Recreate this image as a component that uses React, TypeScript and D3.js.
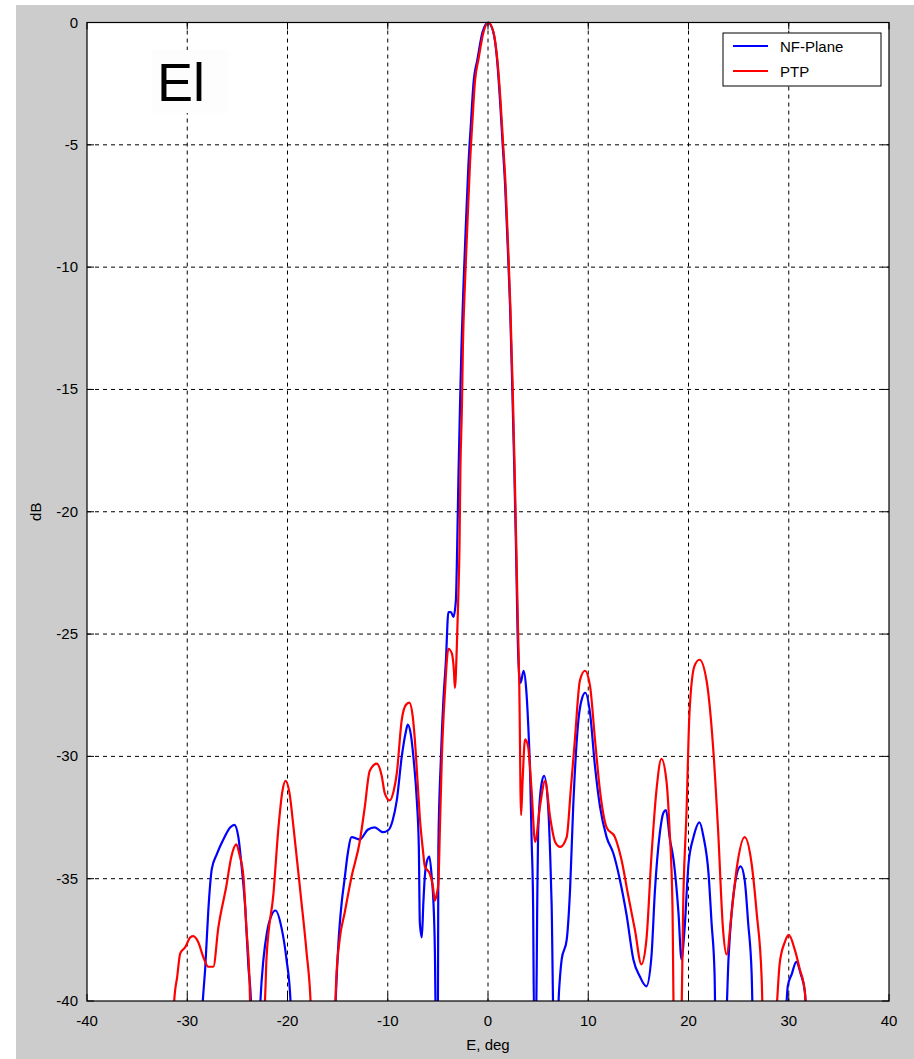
import React from "react";
import * as d3 from "d3";

const xTicks = [-40, -30, -20, -10, 0, 10, 20, 30, 40];
const yTicks = [0, -5, -10, -15, -20, -25, -30, -35, -40];
const seriesNames = ["NF-Plane", "PTP"];
const seriesColors = ["#0000ff", "#ff0000"];

const nfPlane: [number, number][] = [
  [-28.6, -41], [-28.45, -40], [-28.2, -38.6], [-27.9, -36.3], [-27.55, -34.6], [-27.05, -34.0], [-26.4, -33.4], [-25.7, -32.9], [-25.3, -32.8], [-24.9, -33.3], [-24.6, -34.4], [-24.2, -36.3], [-23.9, -38.6], [-23.65, -40], [-23.6, -41],
  [-22.8, -41], [-22.7, -40], [-22.4, -38.3], [-22.05, -37.2], [-21.6, -36.5], [-21.2, -36.3], [-20.6, -37.0], [-20.1, -38.3], [-19.7, -40], [-19.65, -41],
  [-15.3, -41], [-15.2, -40], [-14.9, -37.5], [-14.6, -36.0], [-14.3, -35.0], [-14.0, -34.0], [-13.6, -33.3], [-12.8, -33.4], [-12.0, -33.0], [-11.3, -32.9], [-10.5, -33.1], [-9.9, -33.0], [-9.5, -32.6], [-9.1, -31.8], [-8.6, -30.0], [-8.2, -29.0], [-8.0, -28.7], [-7.7, -29.1], [-7.4, -30.2], [-7.1, -31.8], [-6.9, -33.7], [-6.8, -36.8], [-6.6, -37.4], [-6.45, -36.0], [-6.3, -34.9], [-6.1, -34.3], [-5.85, -34.1], [-5.6, -35.0], [-5.45, -35.9], [-5.3, -37.9], [-5.2, -41], [-5.0, -41], [-4.95, -33.7], [-4.7, -30.1], [-4.45, -27.7], [-4.2, -26.1], [-3.95, -24.1], [-3.7, -24.1], [-3.45, -24.3], [-3.2, -23.6],
  [-3.1, -22.0], [-2.95, -18.6], [-2.8, -15.8], [-2.65, -13.3], [-2.45, -10.8], [-2.2, -8.2], [-1.95, -5.8], [-1.7, -4.1], [-1.45, -2.5], [-1.05, -1.5], [-0.55, -0.4], [0, 0], [0.5, -0.35], [0.9, -1.5], [1.2, -3.2], [1.45, -4.9], [1.7, -6.6], [1.95, -9.0], [2.2, -11.6], [2.42, -14.9], [2.62, -18.2], [2.8, -21.6], [2.95, -24.9], [3.1, -26.6], [3.25, -27.0], [3.55, -26.5], [3.8, -27.2], [4.0, -28.6], [4.2, -30.7], [4.35, -33.4], [4.5, -36.1], [4.6, -41], [4.8, -41], [4.9, -36.5], [5.0, -33.1], [5.35, -31.1], [5.6, -30.8], [6.0, -32.05], [6.2, -34.0], [6.35, -36.1], [6.55, -41],
  [6.9, -41], [7.1, -39.5], [7.35, -38.3], [7.85, -37.5], [8.18, -35.5], [8.5, -32.05], [9.0, -28.6], [9.4, -27.6], [9.7, -27.4], [10.17, -28.2], [10.67, -30.4], [11.17, -32.05], [11.83, -33.3], [12.5, -33.96], [13.16, -35.05], [13.83, -36.5], [14.5, -38.3], [15.15, -39.0], [15.8, -39.4], [16.3, -38.2], [16.65, -35.5], [17.15, -33.1], [17.5, -32.3], [17.75, -32.2], [18.15, -33.4], [18.5, -34.2], [19.0, -36.4], [19.3, -38.3], [19.6, -37.1], [20.0, -34.4], [20.5, -33.3], [21.1, -32.7], [21.5, -33.3], [22.0, -34.8], [22.3, -36.8], [22.6, -38.9], [22.7, -41],
  [23.7, -41], [24.0, -38.2], [24.3, -36.4], [24.6, -35.3], [25.2, -34.5], [25.6, -35.05], [25.95, -36.8], [26.3, -38.9], [26.45, -41],
  [29.6, -41], [29.9, -39.4], [30.3, -38.9], [30.75, -38.4], [31.2, -38.9], [31.6, -39.6], [31.8, -41],
];

const ptp: [number, number][] = [
  [-31.4, -41], [-31.3, -40], [-31.0, -39.0], [-30.7, -38.05], [-30.2, -37.8], [-29.7, -37.4], [-29.4, -37.35], [-28.9, -37.6], [-28.4, -38.2], [-27.9, -38.6], [-27.4, -38.6], [-26.9, -37.0], [-26.1, -35.3], [-25.6, -34.1], [-25.1, -33.6], [-24.8, -34.0], [-24.4, -34.9], [-24.1, -37.0], [-23.8, -39.0], [-23.65, -41],
  [-22.4, -41], [-22.2, -39.5], [-22.1, -38.3], [-21.4, -35.6], [-20.9, -32.9], [-20.5, -31.4], [-20.2, -31.0], [-19.8, -31.5], [-19.4, -32.9], [-18.7, -35.6], [-18.1, -38.0], [-17.7, -40], [-17.6, -41],
  [-15.3, -41], [-15.15, -39.2], [-14.8, -37.5], [-14.3, -36.4], [-13.6, -34.9], [-12.8, -33.5], [-12.3, -32.1], [-11.8, -30.6], [-11.1, -30.3], [-10.6, -30.8], [-10.3, -31.5], [-9.8, -31.8], [-9.4, -31.4], [-9.1, -30.7], [-8.6, -28.5], [-8.2, -27.9], [-7.85, -27.8], [-7.5, -28.4], [-7.3, -29.3], [-7.0, -31.2], [-6.8, -32.5], [-6.5, -33.8], [-6.3, -34.5], [-5.8, -34.8], [-5.5, -35.3], [-5.3, -35.9], [-5.1, -35.6], [-4.95, -35.2], [-4.8, -33.0], [-4.6, -30.0], [-4.3, -27.4], [-3.95, -25.6], [-3.6, -25.8], [-3.4, -26.5], [-3.3, -27.2], [-3.1, -25.4],
  [-2.95, -23.3], [-2.85, -21.6], [-2.75, -18.2], [-2.6, -15.7], [-2.5, -13.2], [-2.3, -10.7], [-2.05, -8.2], [-1.8, -5.8], [-1.55, -4.0], [-1.3, -2.4], [-0.95, -1.5], [-0.45, -0.4], [0.05, 0], [0.55, -0.4], [0.95, -1.6], [1.25, -3.2], [1.5, -4.9], [1.75, -6.6], [2.0, -9.1], [2.23, -11.6], [2.46, -14.9], [2.66, -18.3], [2.83, -21.6], [3.0, -24.9], [3.12, -27.1], [3.3, -32.4], [3.45, -31.0], [3.7, -29.3], [4.0, -29.6], [4.35, -31.4], [4.7, -33.5], [5.2, -32.0], [5.7, -31.0], [6.2, -32.5], [6.7, -33.5], [7.2, -33.7], [7.85, -33.3], [8.25, -31.4], [8.67, -29.3], [9.17, -26.9], [9.67, -26.5], [10.17, -27.1], [10.67, -29.3], [11.17, -31.4], [11.83, -32.9], [12.66, -33.3], [13.3, -34.2], [13.99, -35.7], [14.66, -37.1], [15.3, -38.5], [15.8, -37.5], [16.3, -34.1], [16.8, -31.4], [17.3, -30.1], [17.8, -31.0], [18.1, -32.9], [18.4, -36.1], [18.55, -41],
  [19.25, -41], [19.5, -35.5], [19.8, -32.3], [20.1, -28.2], [20.6, -26.3], [21.1, -26.05], [21.8, -26.9], [22.45, -29.6], [22.95, -33.0], [23.45, -37.1], [23.8, -38.1], [24.3, -36.4], [24.8, -34.6], [25.6, -33.3], [26.3, -34.4], [26.8, -36.4], [27.3, -39.1], [27.45, -41],
  [28.6, -41], [29.1, -38.45], [29.6, -37.6], [30.0, -37.3], [30.6, -37.9], [31.1, -38.7], [31.6, -39.6], [31.8, -41],
];

const seriesData = [nfPlane, ptp];

export default function App() {
  const W = 914, H = 1059;
  const left = 87, right = 889, top = 22.5, bottom = 1001;
  const x = d3.scaleLinear().domain([-40, 40]).range([left, right]);
  const y = d3.scaleLinear().domain([-40, 0]).range([bottom, top]);
  const line = d3.line<[number, number]>().x(d => x(d[0])).y(d => y(d[1])).curve(d3.curveMonotoneX);
  const font = "'Liberation Sans', Arial, Helvetica, sans-serif";
  const tickLen = 7;

  return (
    <svg width={W} height={H} style={{ position: "absolute", left: 0, top: 0 }} fontFamily={font}>
      <rect x={0} y={0} width={W} height={H} fill="#ffffff" />
      <rect x={16} y={5} width={W - 16} height={H - 5} fill="#cccccc" />
      <rect x={left} y={top} width={right - left} height={bottom - top} fill="#ffffff" />
      <defs>
        <clipPath id="plotclip">
          <rect x={left} y={top - 2} width={right - left} height={bottom - top + 2} />
        </clipPath>
      </defs>
      {xTicks.slice(1, -1).map(t => (
        <line key={"gx" + t} x1={x(t)} x2={x(t)} y1={top} y2={bottom} stroke="#000" strokeWidth={1} strokeDasharray="4,4" />
      ))}
      {yTicks.slice(1, -1).map(t => (
        <line key={"gy" + t} x1={left} x2={right} y1={y(t)} y2={y(t)} stroke="#000" strokeWidth={1} strokeDasharray="4,4" />
      ))}
      <rect x={152} y={50} width={76} height={63} fill="#fdfdfd" />
      <text x={157} y={101} fontSize={54} fill="#000">El</text>
      <g clipPath="url(#plotclip)">
        {seriesData.map((s, i) => (
          <path key={i} d={line(s) || ""} fill="none" stroke={seriesColors[i]} strokeWidth={2.2} strokeLinejoin="round" />
        ))}
      </g>
      {xTicks.map(t => (
        <g key={"tx" + t}>
          <line x1={x(t)} x2={x(t)} y1={bottom} y2={bottom - tickLen} stroke="#000" />
          <line x1={x(t)} x2={x(t)} y1={top} y2={top + tickLen} stroke="#000" />
          <text x={x(t)} y={bottom + 25} fontSize={15} textAnchor="middle" fill="#000">{t}</text>
        </g>
      ))}
      {yTicks.map(t => (
        <g key={"ty" + t}>
          <line x1={left} x2={left + tickLen} y1={y(t)} y2={y(t)} stroke="#000" />
          <line x1={right} x2={right - tickLen} y1={y(t)} y2={y(t)} stroke="#000" />
          <text x={left - 9} y={y(t) + 5} fontSize={15} textAnchor="end" fill="#000">{t}</text>
        </g>
      ))}
      <rect x={left} y={top} width={right - left} height={bottom - top} fill="none" stroke="#000" strokeWidth={1.2} />
      <text x={(left + right) / 2} y={1050} fontSize={15} textAnchor="middle" fill="#000">E, deg</text>
      <text transform={`translate(41, ${(top + bottom) / 2}) rotate(-90)`} fontSize={15} textAnchor="middle" fill="#000">dB</text>
      <rect x={723} y={33} width={158} height={53} fill="#ffffff" stroke="#000" strokeWidth={1} />
      {seriesNames.map((n, i) => (
        <g key={n}>
          <line x1={733} x2={768} y1={46 + i * 25} y2={46 + i * 25} stroke={seriesColors[i]} strokeWidth={2} />
          <text x={780} y={52 + i * 25} fontSize={15} fill="#000">{n}</text>
        </g>
      ))}
    </svg>
  );
}
